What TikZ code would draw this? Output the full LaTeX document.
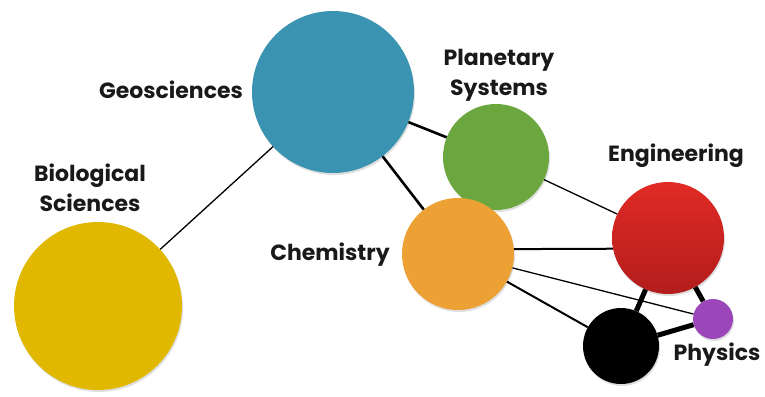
\documentclass[tikz,border=0pt]{standalone}
\usepackage{fontspec}
\setmainfont{Poppins}
\usetikzlibrary{shadows}

\definecolor{geoblue}{HTML}{3A93B0}
\definecolor{planetgreen}{HTML}{6CA63F}
\definecolor{chemorange}{HTML}{EDA033}
\definecolor{engred}{HTML}{E02A25}
\definecolor{engdark}{HTML}{B21D1C}
\definecolor{bioyellow}{HTML}{E1B800}
\definecolor{physpurple}{HTML}{9B46B9}

\begin{document}
\begin{tikzpicture}[x=1pt,y=-1pt,
	field/.style={circle,draw=none,inner sep=0pt,drop shadow={shadow xshift=1pt,shadow yshift=-2pt,opacity=.25}},
	tag/.style={font=\bfseries\fontsize{22}{30}\selectfont,align=center,text=black!90},
	weak/.style={line width=1.3pt},
	mid/.style={line width=2.6pt},
	strong/.style={line width=5pt}]
	\useasboundingbox (0,0) rectangle (765,396);

	\node[field,fill=bioyellow,minimum size=168pt]   (bio)  at (98,306)  {};
	\node[field,fill=geoblue,minimum size=162pt]     (geo)  at (333,92)  {};
	\node[field,fill=planetgreen,minimum size=106pt] (plan) at (496,157) {};
	\node[field,fill=chemorange,minimum size=112pt]  (chem) at (458,254) {};
	\node[field,top color=engred,bottom color=engdark,minimum size=112pt] (eng) at (668,238) {};
	\node[field,fill=black,minimum size=76pt]        (blk)  at (621,346) {};
	\node[field,fill=physpurple,minimum size=40pt]   (phys) at (713,319) {};

	\node[tag] (bio_l)  at (90,188)  {Biological\\Sciences};
	\node[tag] (geo_l)  at (171,90)  {Geosciences};
	\node[tag] (plan_l) at (499,75)  {Planetary\\Systems};
	\node[tag] (eng_l)  at (676,156) {Engineering};
	\node[tag] (chem_l) at (330,255) {Chemistry};
	\node[tag] (phys_l) at (717,355) {Physics};

	% links
	\draw[weak]   (bio)  -- (geo);
	\draw[mid]    (geo)  -- (plan);
	\draw[mid]    (geo)  -- (chem);
	\draw[weak]   (plan) -- (eng);
	\draw[line width=2pt] (chem.5) -- (eng.191);
	\draw[weak]   (chem) -- (phys);
	\draw[line width=2pt] (chem) -- (blk);
	\draw[strong] (eng)  -- (blk);
	\draw[strong] (eng)  -- (phys);
	\draw[strong] (blk)  -- (phys);
\end{tikzpicture}
\end{document}
